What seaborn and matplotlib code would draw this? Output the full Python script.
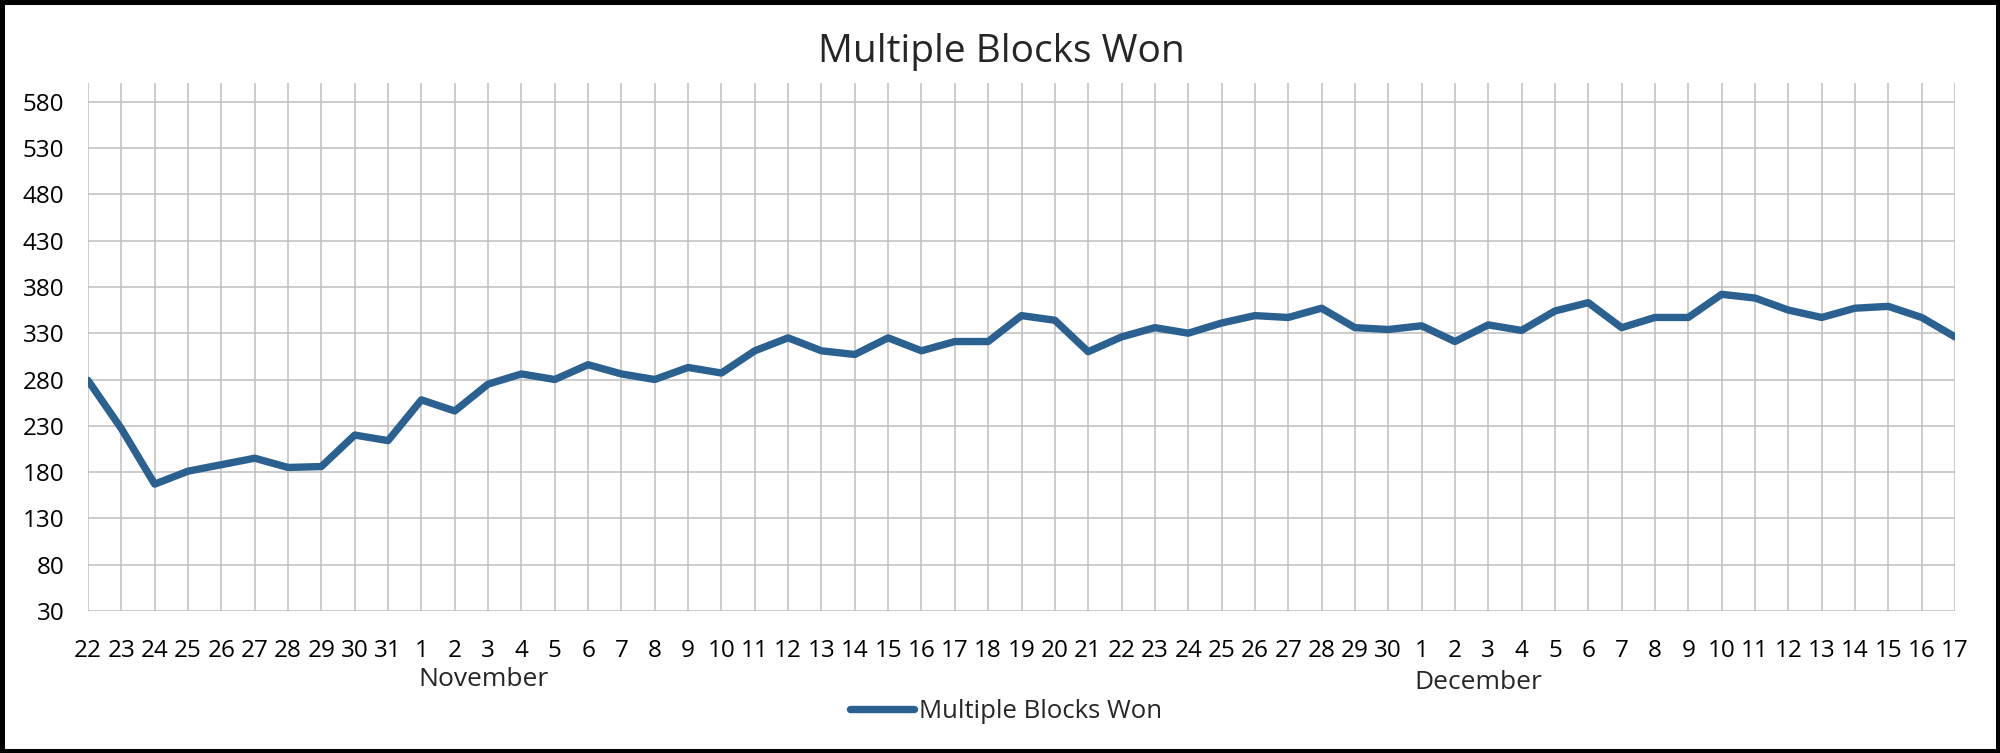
import matplotlib
matplotlib.use("Agg")
import matplotlib.pyplot as plt
import matplotlib.transforms as mtransforms
from matplotlib.patches import Rectangle
import pandas as pd
import seaborn as sns

# daily values, Oct 22 .. Dec 17
oct_days = list(range(22, 32))
nov_days = list(range(1, 31))
dec_days = list(range(1, 18))

oct_vals = [279, 227, 167, 181, 188, 195, 185, 186, 220, 214]
nov_vals = [258, 246, 275, 286, 280, 296, 286, 280, 293, 287,
            311, 325, 311, 307, 325, 311, 321, 321, 349, 344,
            310, 326, 336, 330, 341, 349, 347, 357, 336, 334]
dec_vals = [338, 321, 339, 333, 354, 363, 336, 347, 347, 372,
            368, 355, 347, 357, 359, 347, 326]

series_name = "Multiple Blocks Won"
y_ticks = list(range(30, 581, 50))

days = oct_days + nov_days + dec_days
vals = oct_vals + nov_vals + dec_vals
df = pd.DataFrame({"idx": range(len(days)), "day": days, "value": vals})

sns.set_style("white")
plt.rcParams["font.family"] = ["Open Sans", "DejaVu Sans"]

fig = plt.figure(figsize=(20, 7.53), dpi=100)
ax = fig.add_axes([0.044, 0.1886, 0.9335, 0.7009])

line_color = "#2A6190"
sns.lineplot(data=df, x="idx", y="value", ax=ax, color=line_color,
             linewidth=5.3, label=series_name, solid_capstyle="round")

ax.set_xlim(0, len(days) - 1)
ax.set_ylim(30, 600)
ax.set_yticks(y_ticks)
ax.set_xticks(df["idx"])
ax.set_xticklabels([str(d) for d in days])
ax.tick_params(axis="both", length=0, labelsize=17.5, colors="#000000")
ax.tick_params(axis="y", pad=17)
ax.tick_params(axis="x", pad=20)
ax.set_xlabel("")
ax.set_ylabel("")

ax.grid(True, color="#BFBFBF", linewidth=1.1)
ax.set_axisbelow(True)
for s in ax.spines.values():
    s.set_visible(False)

# month labels under the day ticks
trans = mtransforms.blended_transform_factory(ax.transData, fig.transFigure)
nov_start = len(oct_days)
dec_start = len(oct_days) + len(nov_days)
ax.text(nov_start + 1.85, 0.097, "November", transform=trans,
        ha="center", va="center", fontsize=19)
ax.text(dec_start + 1.7, 0.093, "December", transform=trans,
        ha="center", va="center", fontsize=19)

fig.text(0.5009, 0.9313, series_name, ha="center", va="center", fontsize=28)

leg = ax.legend(loc="center", bbox_to_anchor=(0.503, 0.055),
                bbox_transform=fig.transFigure, frameon=False,
                fontsize=18.5, handlelength=2.5, handletextpad=0.2)

fig.patches.append(Rectangle((0, 0), 1, 1, transform=fig.transFigure,
                             fill=False, edgecolor="black", linewidth=6.5))

plt.savefig("out.png", dpi=100)
plt.close()
